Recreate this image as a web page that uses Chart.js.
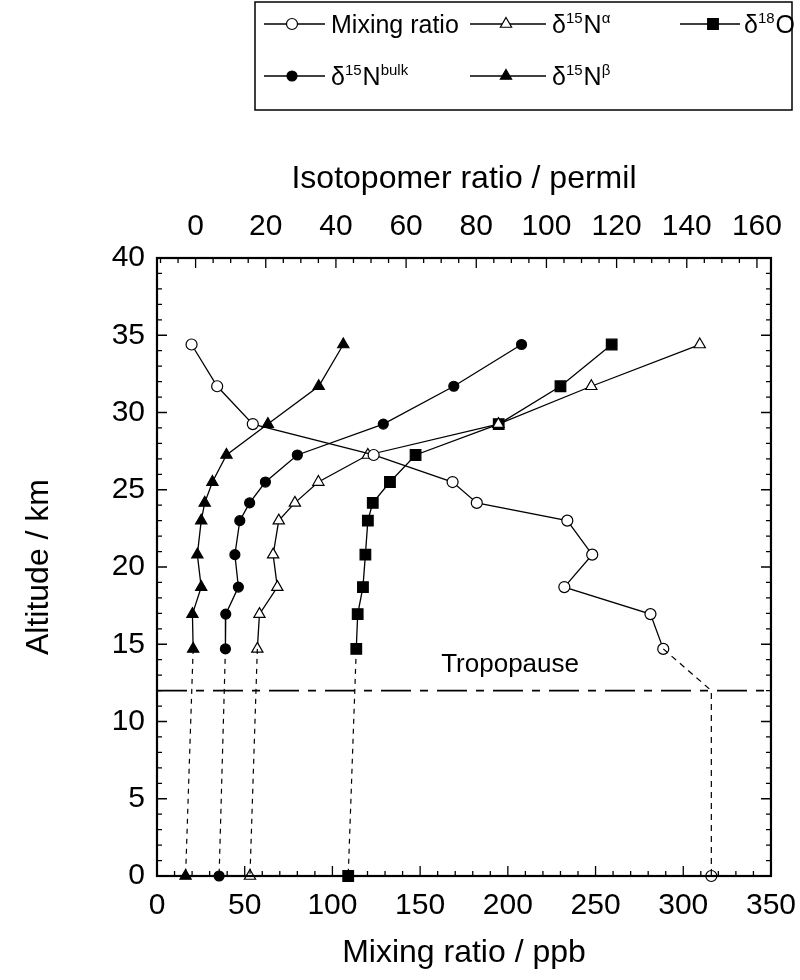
<!DOCTYPE html>
<html><head><meta charset="utf-8">
<script src="https://cdn.jsdelivr.net/npm/chart.js@4.4.1/dist/chart.umd.min.js"></script>
<style>html,body{margin:0;padding:0;background:#fff}canvas{display:block}</style>
</head><body>
<canvas id="c" width="800" height="980"></canvas>
<script>
// ---------- data ----------
const altitudeKm      = [34.4, 31.7, 29.25, 27.25, 25.5, 24.15, 23.0, 20.8, 18.7, 16.95, 14.7];
const mixingRatioPpb  = [19.7, 34.3, 54.6, 123.5, 168.5, 182.3, 233.9, 248.1, 232.2, 281.3, 288.6];
const d15NbulkPermil  = [92.9, 73.6, 53.5, 29.0, 19.9, 15.4, 12.6, 11.2, 12.2, 8.6, 8.5];
const d15NalphaPermil = [143.7, 112.8, 86.3, 49.1, 35.0, 28.3, 23.7, 22.1, 23.3, 18.2, 17.6];
const d15NbetaPermil  = [42.1, 35.1, 20.6, 8.8, 4.8, 2.6, 1.6, 0.5, 1.6, -0.9, -0.7];
const d18OPermil      = [118.6, 104.0, 86.4, 62.7, 55.4, 50.5, 49.1, 48.4, 47.7, 46.2, 45.8];
// surface (0 km) values
const surfaceMixingRatio = 316;
const surfaceBulk  = 6.7;
const surfaceAlpha = 15.5;
const surfaceBeta  = -2.85;
const surfaceO18   = 43.5;
const tropopauseKm = 12;
// tick labels
const xTickLabels  = [0, 50, 100, 150, 200, 250, 300, 350];
const x2TickLabels = [0, 20, 40, 60, 80, 100, 120, 140, 160];
const yTickLabels  = [0, 5, 10, 15, 20, 25, 30, 35, 40];

// ---------- helpers ----------
const FONT = "'Liberation Sans', Arial, Helvetica, sans-serif";
Chart.defaults.font.family = FONT;
Chart.defaults.color = '#000';

const profile = xs => xs.map((v, i) => ({x: v, y: altitudeKm[i]}));
const last = arr => arr[arr.length - 1];
const lastAlt = last(altitudeKm);

function mainSeries(label, xs, axis, style, r, filled) {
  return {label, data: profile(xs), xAxisID: axis, showLine: true,
    borderColor: '#000', borderWidth: 1.3, tension: 0,
    pointStyle: style, pointRadius: r, pointHoverRadius: r,
    pointBackgroundColor: filled ? '#000' : '#fff', pointBorderColor: '#000', pointBorderWidth: 1.2};
}
function dashedToSurface(xs, surf, axis) {
  return {label: '', data: [{x: last(xs), y: lastAlt}, {x: surf, y: 0}], xAxisID: axis, showLine: true,
    borderColor: '#000', borderWidth: 1.2, borderDash: [5, 5], pointRadius: 0, clip: false};
}
function surfacePoint(v, axis, style, r, filled) {
  return {label: '', data: [{x: v, y: 0}], xAxisID: axis, showLine: false,
    pointStyle: style, pointRadius: r, pointBackgroundColor: filled ? '#000' : '#fff',
    pointBorderColor: '#000', pointBorderWidth: 1.2, clip: false};
}

const datasets = [
  {label: '', data: [{x: 0, y: tropopauseKm}, {x: 350, y: tropopauseKm}], xAxisID: 'x', showLine: true,
   borderColor: '#000', borderWidth: 1.6, borderDash: [30, 9, 8, 9], pointRadius: 0},
  {label: '', data: [{x: last(mixingRatioPpb), y: lastAlt}, {x: surfaceMixingRatio, y: tropopauseKm}, {x: surfaceMixingRatio, y: 0}],
   xAxisID: 'x', showLine: true, borderColor: '#000', borderWidth: 1.2, borderDash: [6, 5], pointRadius: 0, clip: false},
  dashedToSurface(d15NbetaPermil, surfaceBeta, 'x2'),
  dashedToSurface(d15NbulkPermil, surfaceBulk, 'x2'),
  dashedToSurface(d15NalphaPermil, surfaceAlpha, 'x2'),
  dashedToSurface(d18OPermil, surfaceO18, 'x2'),
  mainSeries('Mixing ratio', mixingRatioPpb, 'x', 'circle', 5.5, false),
  mainSeries('δ15N bulk', d15NbulkPermil, 'x2', 'circle', 5, true),
  mainSeries('δ15N alpha', d15NalphaPermil, 'x2', 'triangle', 6.5, false),
  mainSeries('δ15N beta', d15NbetaPermil, 'x2', 'triangle', 6.5, true),
  mainSeries('δ18O', d18OPermil, 'x2', 'rect', 7.5, true),
  surfacePoint(surfaceMixingRatio, 'x', 'circle', 5.5, false),
  surfacePoint(surfaceBulk, 'x2', 'circle', 5, true),
  surfacePoint(surfaceAlpha, 'x2', 'triangle', 6.5, false),
  surfacePoint(surfaceBeta, 'x2', 'triangle', 6.5, true),
  surfacePoint(surfaceO18, 'x2', 'rect', 7.5, true)
];

// ---------- legend / frame / ticks plugin ----------
function marker(ctx, style, x, y, r, filled) {
  ctx.save();
  ctx.beginPath();
  if (style === 'circle') ctx.arc(x, y, r, 0, Math.PI * 2);
  else if (style === 'triangle') {
    ctx.moveTo(x, y - r); ctx.lineTo(x + r * 0.866, y + r * 0.5); ctx.lineTo(x - r * 0.866, y + r * 0.5); ctx.closePath();
  } else { const s = r * Math.SQRT1_2; ctx.rect(x - s, y - s, 2 * s, 2 * s); }
  ctx.fillStyle = filled ? '#000' : '#fff';
  ctx.fill(); ctx.lineWidth = 1.2; ctx.strokeStyle = '#000'; ctx.stroke();
  ctx.restore();
}
const legendItems = [
  {parts: [['Mixing ratio', 0]], style: 'circle', r: 5.5, filled: false, col: 0, row: 0},
  {parts: [['δ', 0], ['15', 1], ['N', 0], ['α', 1]], style: 'triangle', r: 6.5, filled: false, col: 1, row: 0},
  {parts: [['δ', 0], ['18', 1], ['O', 0]], style: 'rect', r: 7.5, filled: true, col: 2, row: 0},
  {parts: [['δ', 0], ['15', 1], ['N', 0], ['bulk', 1]], style: 'circle', r: 5, filled: true, col: 0, row: 1},
  {parts: [['δ', 0], ['15', 1], ['N', 0], ['β', 1]], style: 'triangle', r: 6.5, filled: true, col: 1, row: 1}
];

const decor = {
  id: 'decor',
  afterDraw(chart) {
    const {ctx, chartArea: a} = chart;
    const sx = chart.scales.x, sx2 = chart.scales.x2, sy = chart.scales.y;
    ctx.save();
    ctx.strokeStyle = '#000';
    // inward ticks
    ctx.lineWidth = 1.3;
    ctx.beginPath();
    for (let v = 0; v <= 350; v += 10) {
      const px = sx.getPixelForValue(v), len = v % 50 === 0 ? 10 : 5;
      ctx.moveTo(px, a.bottom); ctx.lineTo(px, a.bottom - len);
    }
    for (let v = -10; v <= 160; v += 5) {
      const px = sx2.getPixelForValue(v), len = v % 20 === 0 ? 10 : 5;
      ctx.moveTo(px, a.top); ctx.lineTo(px, a.top + len);
    }
    for (let v = 0; v <= 40; v += 1) {
      const py = sy.getPixelForValue(v), len = v % 5 === 0 ? 10 : 5;
      ctx.moveTo(a.left, py); ctx.lineTo(a.left + len, py);
      ctx.moveTo(a.right, py); ctx.lineTo(a.right - len, py);
    }
    ctx.stroke();
    // frame
    ctx.lineWidth = 2.2;
    ctx.strokeRect(a.left, a.top, a.right - a.left, a.bottom - a.top);
    // tropopause label
    ctx.fillStyle = '#000';
    ctx.font = '26px ' + FONT;
    ctx.textAlign = 'left'; ctx.textBaseline = 'middle';
    ctx.fillText('Tropopause', sx.getPixelForValue(162), sy.getPixelForValue(13.7));
    // legend
    const box = {x: 255, y: 2, w: 537, h: 108};
    ctx.lineWidth = 1.5;
    ctx.strokeRect(box.x, box.y, box.w, box.h);
    const cols = [{l0: 264, l1: 325, m: 292, t: 331}, {l0: 470, l1: 546, m: 506, t: 552}, {l0: 680, l1: 740, m: 713, t: 744}];
    const rows = [24, 76];
    legendItems.forEach(it => {
      const c = cols[it.col], y = rows[it.row];
      ctx.lineWidth = 1.3; ctx.setLineDash([]);
      ctx.beginPath(); ctx.moveTo(c.l0, y); ctx.lineTo(c.l1, y); ctx.stroke();
      marker(ctx, it.style, c.m, y, it.r, it.filled);
      let x = c.t;
      ctx.textBaseline = 'alphabetic'; ctx.textAlign = 'left';
      it.parts.forEach(([txt, sup]) => {
        ctx.font = (sup ? '15px ' : '25px ') + FONT;
        ctx.fillText(txt, x, sup ? y - 1 : y + 9);
        x += ctx.measureText(txt).width + (sup ? 1 : 0);
      });
    });
    ctx.restore();
  }
};

new Chart(document.getElementById('c'), {
  type: 'scatter',
  data: {datasets},
  options: {
    responsive: false, animation: false, devicePixelRatio: 1,
    layout: {padding: {top: 120, right: 28, left: 0, bottom: 0}},
    plugins: {legend: {display: false}, tooltip: {enabled: false}},
    scales: {
      x: {type: 'linear', position: 'bottom', min: 0, max: 350,
        afterBuildTicks: s => { s.ticks = xTickLabels.map(v => ({value: v})); },
        afterFit: s => { s.height = 104; },
        grid: {display: false}, border: {display: false},
        ticks: {font: {size: 30}, padding: 4, color: '#000', maxRotation: 0, autoSkip: false},
        title: {display: true, text: 'Mixing ratio / ppb', font: {size: 32}, color: '#000', padding: {top: 0, bottom: 8}}},
      x2: {type: 'linear', position: 'top', min: -11, max: 164,
        afterBuildTicks: s => { s.ticks = x2TickLabels.map(v => ({value: v})); },
        afterFit: s => { s.height = 138; },
        grid: {display: false}, border: {display: false},
        ticks: {font: {size: 30}, padding: 5, color: '#000', maxRotation: 0, autoSkip: false},
        title: {display: true, text: 'Isotopomer ratio / permil', font: {size: 32}, color: '#000', padding: {top: 40, bottom: 0}}},
      y: {type: 'linear', position: 'left', min: 0, max: 40,
        afterBuildTicks: s => { s.ticks = yTickLabels.map(v => ({value: v})); },
        afterFit: s => { s.width = 157; },
        grid: {display: false}, border: {display: false},
        ticks: {font: {size: 30}, padding: 4, color: '#000', autoSkip: false},
        title: {display: true, text: 'Altitude / km', font: {size: 32}, color: '#000', padding: {top: 20, bottom: 0}}}
    }
  },
  plugins: [decor]
});
</script>
</body></html>
